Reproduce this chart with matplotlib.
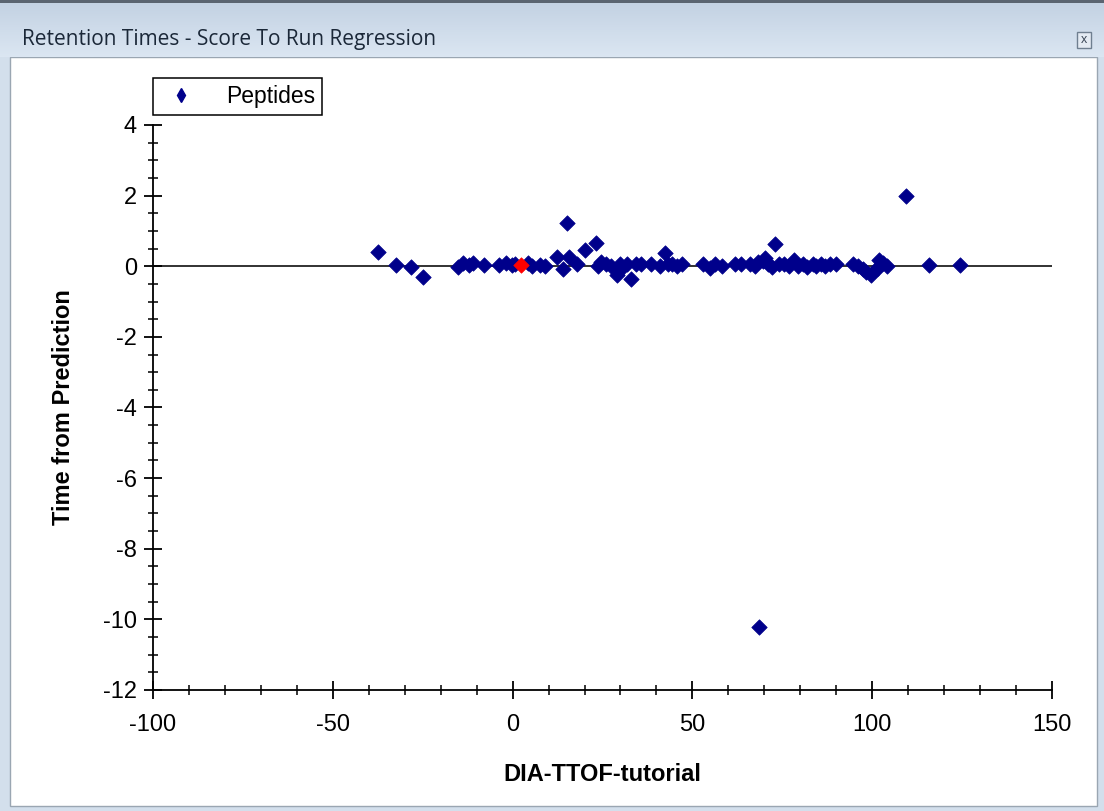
import numpy as np
import matplotlib.pyplot as plt
from matplotlib.patches import Rectangle
from matplotlib.lines import Line2D
from matplotlib.colors import LinearSegmentedColormap
from matplotlib.ticker import MultipleLocator

plt.rcParams['font.family'] = ['Liberation Sans', 'DejaVu Sans']
plt.rcParams['axes.unicode_minus'] = False

W, H = 1104, 811

# peptide residuals (score vs. time from prediction)
pep_x = [-37.5, -32.5, -28.3, -24.8, -15.1, -13.7, -12.0, -10.9, -7.9, -3.8,
         -1.7, -0.3, 0.8, 4.4, 5.5, 7.6, 9.0, 12.4, 13.9, 15.0,
         15.6, 17.8, 20.1, 23.1, 23.8, 24.7, 26.1, 27.5, 28.9, 29.8,
         30.5, 31.7, 32.9, 34.4, 35.8, 38.6, 40.9, 42.5, 43.2, 44.2,
         45.6, 47.2, 53.0, 54.8, 56.2, 58.1, 61.8, 63.6, 65.9, 67.5,
         68.2, 68.6, 69.5, 70.3, 71.0, 72.0, 73.1, 74.0, 75.6, 77.0,
         78.2, 79.5, 80.7, 81.8, 83.5, 84.5, 85.8, 87.0, 88.2, 90.0,
         94.6, 96.0, 97.5, 98.3, 99.7, 100.8, 101.5, 102.0, 103.0, 104.0,
         109.4, 115.9, 124.5]
pep_y = [0.41, 0.03, -0.02, -0.30, -0.02, 0.08, 0.03, 0.08, 0.03, 0.03,
         0.08, 0.03, 0.05, 0.08, 0.02, 0.03, 0.00, 0.25, -0.08, 1.23,
         0.25, 0.06, 0.45, 0.67, 0.02, 0.12, 0.06, 0.02, -0.25, 0.06,
         -0.05, 0.06, -0.35, 0.06, 0.06, 0.06, 0.02, 0.38, 0.05, 0.06,
         0.02, 0.06, 0.06, -0.05, 0.06, 0.02, 0.06, 0.06, 0.06, 0.02,
         0.11, -10.23, 0.15, 0.22, 0.05, -0.03, 0.64, 0.05, 0.06, 0.02,
         0.17, 0.02, 0.06, -0.02, 0.06, 0.00, 0.06, 0.02, 0.06, 0.06,
         0.06, 0.00, -0.08, -0.16, -0.25, -0.12, -0.05, 0.17, 0.08, 0.02,
         1.98, 0.03, 0.03]
sel_x = [2.3]
sel_y = [0.03]

fig = plt.figure(figsize=(W / 100, H / 100), dpi=100)
fig.patch.set_facecolor('#d3dfec')

# window chrome: title bar gradient
bar = fig.add_axes([0, 1 - 57 / H, 1, 57 / H])
grad = np.linspace(0, 1, 50).reshape(-1, 1)
bar.imshow(grad, aspect='auto', extent=[0, 1, 0, 1],
           cmap=LinearSegmentedColormap.from_list('bar', ['#c2d1e2', '#dbe6f2']))
bar.set_xlim(0, 1)
bar.set_ylim(0, 1)
bar.axis('off')
bar.text(22 / W, 1 - 40 / 57, 'Retention Times - Score To Run Regression', fontsize=15,
         family=['Open Sans', 'DejaVu Sans'], color='#1b2838', va='center', ha='left',
         transform=bar.transAxes)
fig.patches.append(Rectangle((0, 1 - 3 / H), 1, 3 / H, transform=fig.transFigure,
                             facecolor='#5a6470', edgecolor='none', zorder=5))
fig.patches.append(Rectangle((1077 / W, 1 - 48 / H), 14 / W, 16 / H, transform=fig.transFigure,
                             facecolor='#e4ebf3', edgecolor='#6f7f90', lw=1, zorder=5))
fig.text(1084 / W, 1 - 40 / H, 'x', fontsize=9, ha='center', va='center', color='#3a4656',
         zorder=6)

# white client area (behind the plot)
fig.patches.append(Rectangle((10 / W, 5 / H), 1087 / W, (H - 57 - 5) / H,
                             transform=fig.transFigure, facecolor='white',
                             edgecolor='#9aa6b2', lw=1, zorder=-5))

ax = fig.add_axes([153 / W, 1 - 690 / H, 899 / W, 565 / H])
ax.set_facecolor('none')
ax.axhline(0, color='#222222', lw=1.3, zorder=1)
ax.scatter(pep_x, pep_y, marker='D', s=62, color='#00008b', edgecolor='#00008b',
           linewidths=0.5, zorder=3)
ax.scatter(sel_x, sel_y, marker='D', s=62, color='#ff0000', edgecolor='#ff0000',
           linewidths=0.5, zorder=4)

ax.set_xlim(-100, 150)
ax.set_ylim(-12, 4)
ax.xaxis.set_major_locator(MultipleLocator(50))
ax.xaxis.set_minor_locator(MultipleLocator(10))
ax.yaxis.set_major_locator(MultipleLocator(2))
ax.yaxis.set_minor_locator(MultipleLocator(0.5))
ax.spines['top'].set_visible(False)
ax.spines['right'].set_visible(False)
for s in ('left', 'bottom'):
    ax.spines[s].set_linewidth(1.3)
ax.tick_params(which='major', direction='inout', length=13, width=1.3, labelsize=17)
ax.tick_params(which='minor', direction='inout', length=7, width=1.1)
ax.tick_params(axis='x', which='major', pad=11)
ax.tick_params(axis='y', which='major', pad=5)
ax.set_xlabel('DIA-TTOF-tutorial', fontsize=17, fontweight='bold', labelpad=19)
ax.set_ylabel('Time from Prediction', fontsize=17, fontweight='bold', labelpad=20)

handle = Line2D([], [], ls='none', marker='d', markersize=7.5, color='#00008b')
leg = ax.legend([handle], ['Peptides'], loc='upper left',
                bbox_to_anchor=(153 / W, 1 - 78 / H),
                bbox_transform=fig.transFigure, borderaxespad=0, fancybox=False,
                framealpha=1, edgecolor='black', fontsize=16.5, handletextpad=1.1,
                borderpad=0.3, handlelength=1.8)
leg.get_frame().set_linewidth(1.1)

fig.savefig('out.png', dpi=100, facecolor=fig.get_facecolor())
